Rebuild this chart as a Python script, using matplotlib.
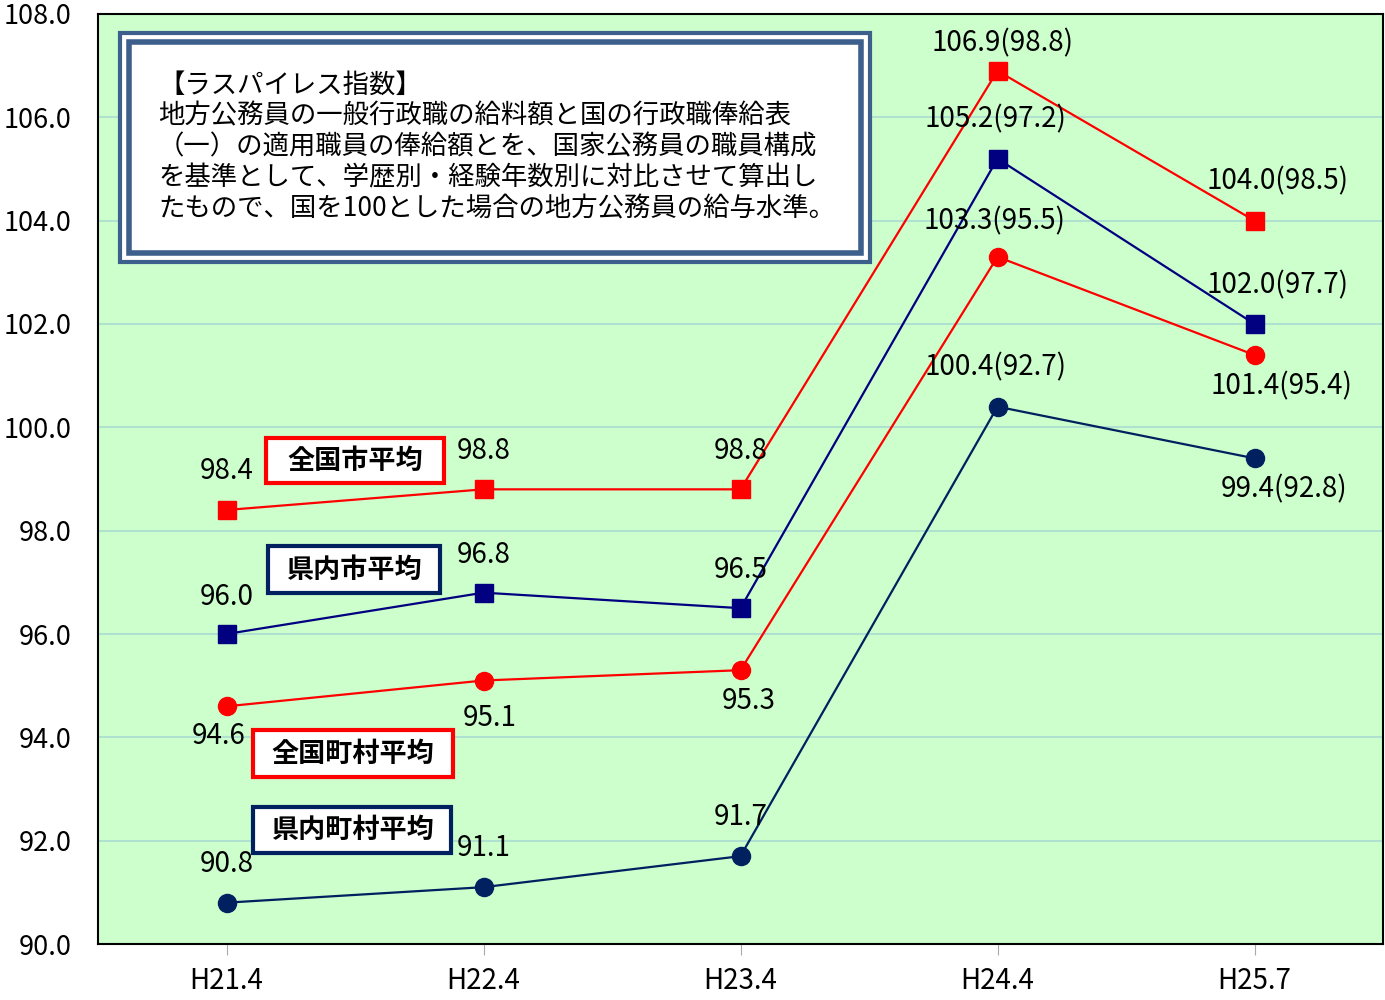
import matplotlib
matplotlib.use('Agg')
import matplotlib.pyplot as plt
from matplotlib.patches import Rectangle

plt.rcParams['font.family'] = ['Noto Sans CJK JP', 'DejaVu Sans']

# データ
periods = ['H21.4', 'H22.4', 'H23.4', 'H24.4', 'H25.7']
zenkoku_shi = [98.4, 98.8, 98.8, 106.9, 104.0]
kennai_shi = [96.0, 96.8, 96.5, 105.2, 102.0]
zenkoku_chouson = [94.6, 95.1, 95.3, 103.3, 101.4]
kennai_chouson = [90.8, 91.1, 91.7, 100.4, 99.4]
# H24.4, H25.7 の括弧内の値
zenkoku_shi_sub = [98.8, 98.5]
kennai_shi_sub = [97.2, 97.7]
zenkoku_chouson_sub = [95.5, 95.4]
kennai_chouson_sub = [92.7, 92.8]

series_names = ['全国市平均', '県内市平均', '全国町村平均', '県内町村平均']
note_lines = [
    '【ラスパイレス指数】',
    '地方公務員の一般行政職の給料額と国の行政職俸給表',
    '（一）の適用職員の俸給額とを、国家公務員の職員構成',
    'を基準として、学歴別・経験年数別に対比させて算出し',
    'たもので、国を100とした場合の地方公務員の給与水準。',
]

RED = '#ff0000'
NAVY = '#000080'
DNAVY = '#00205f'
PX = 72 / 100.0  # pixel -> points
W, H = 1385.0, 1000.0

fig = plt.figure(figsize=(13.85, 10), dpi=100)
ax = fig.add_axes([98 / W, 56 / H, 1285 / W, 930 / H])
ax.set_facecolor('#ccffcc')
ax.set_xlim(-0.5, 4.5)
ax.set_ylim(90, 108)
ax.set_yticks([90 + 2 * i for i in range(10)])
ax.set_yticklabels(['%.1f' % (90 + 2 * i) for i in range(10)], fontsize=19.5)
ax.set_xticks(range(len(periods)))
ax.set_xticklabels(periods, fontsize=20)
ax.tick_params(axis='y', length=0, pad=19)
ax.tick_params(axis='x', length=8, color='#aaaaaa', pad=8, direction='out')
ax.grid(axis='y', color='#a8dcd0', linewidth=1.2)
ax.set_axisbelow(True)
for s in ax.spines.values():
    s.set_color('black')
    s.set_linewidth(1.5)

x = list(range(len(periods)))
series = [
    (zenkoku_shi, zenkoku_shi_sub, RED, 's'),
    (kennai_shi, kennai_shi_sub, NAVY, 's'),
    (zenkoku_chouson, zenkoku_chouson_sub, RED, 'o'),
    (kennai_chouson, kennai_chouson_sub, DNAVY, 'o'),
]
for vals, sub, col, mk in series:
    ax.plot(x, vals, color=col, linewidth=1.6, marker=mk, markersize=13,
            markerfacecolor=col, markeredgecolor=col, zorder=3)

# ラベル位置 (px オフセット: dx, dy)
offsets = [
    [(0, 39), (0, 38), (0, 38), (5, 27), (23, 39)],
    [(0, 37), (0, 38), (0, 38), (-2, 39), (23, 39)],
    [(-8, -30), (6, -37), (8, -31), (-3, 35), (27, -31)],
    [(0, 39), (0, 39), (0, 39), (-2, 39), (30, -31)],
]
for (vals, sub, col, mk), offs in zip(series, offsets):
    for i, v in enumerate(vals):
        if i >= 3:
            txt = '%.1f(%.1f)' % (v, sub[i - 3])
        else:
            txt = '%.1f' % v
        dx, dy = offs[i]
        ax.annotate(txt, (i, v), xytext=(dx * PX, dy * PX), textcoords='offset points',
                    ha='center', va='center', fontsize=20, color='black', zorder=5)

# 系列名ボックス (px: left, top, right, bottom)
name_boxes = [(266, 438, 444, 483, RED), (268, 546, 440, 593, DNAVY),
              (253, 730, 453, 777, RED), (253, 807, 451, 853, DNAVY)]
for name, (l, t, r, b, col) in zip(series_names, name_boxes):
    fig.patches.append(Rectangle((l / W, 1 - b / H), (r - l) / W, (b - t) / H,
                                 transform=fig.transFigure, facecolor='white',
                                 edgecolor=col, linewidth=3, zorder=4))
    fig.text((l + r) / 2 / W, 1 - (t + b) / 2 / H, name, ha='center', va='center',
             fontsize=19.5, fontweight='bold', zorder=5)

# 注記ボックス
fig.patches.append(Rectangle((120 / W, 1 - 262 / H), 750 / W, 229 / H,
                             transform=fig.transFigure, facecolor='white',
                             edgecolor='#3d5f8c', linewidth=3, zorder=2))
fig.patches.append(Rectangle((129 / W, 1 - 253 / H), 732 / W, 211 / H,
                             transform=fig.transFigure, facecolor='white',
                             edgecolor='#3d5f8c', linewidth=4, zorder=2))
for k, line in enumerate(note_lines):
    fig.text(158 / W, 1 - (85 + 31 * k) / H, line, ha='left', va='center',
             fontsize=19, zorder=3)

fig.savefig('out.png', dpi=100)
